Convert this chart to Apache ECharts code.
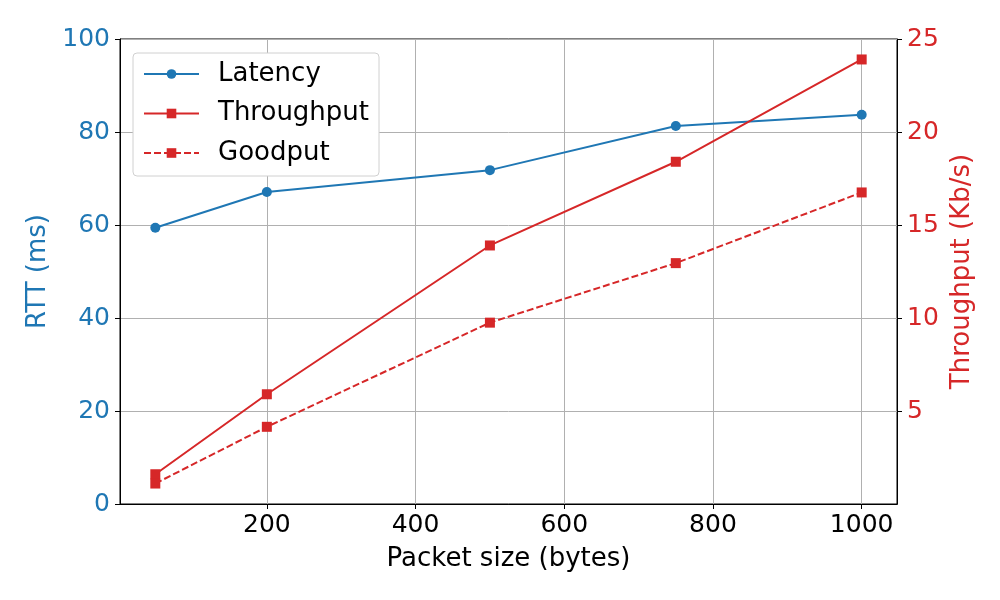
<!DOCTYPE html>
<html>
<head>
<meta charset="utf-8">
<script src="https://cdn.jsdelivr.net/npm/echarts@6/dist/echarts.min.js"></script>
<style>
  html, body { margin: 0; padding: 0; background: #fff; }
  #main { width: 1000px; height: 600px; }
</style>
</head>
<body>
<div id="main"></div>
<script>
// packet sizes (bytes)
var packetSizes = [50, 200, 500, 750, 1000];
// RTT in ms (left axis)
var latency = [59.4, 67.1, 71.8, 81.3, 83.7];
// Kb/s (right axis)
var throughput = [1.6, 5.9, 13.9, 18.4, 23.9];
var goodput = [1.1, 4.15, 9.75, 12.95, 16.75];

var xTicks = [200, 400, 600, 800, 1000];
var rightTicks = [5, 10, 15, 20, 25];

var blue = '#1f77b4';
var red = '#d62728';
var font = 'DejaVu Sans';

function pairs(xs, ys) {
  return xs.map(function (x, i) { return [x, ys[i]]; });
}

var myChart = echarts.init(document.getElementById('main'));
myChart.setOption({
  animation: false,
  textStyle: { fontFamily: font },
  grid: {
    left: 120, right: 103, top: 39, bottom: 96,
    show: true, borderColor: '#000', borderWidth: 1
  },
  legend: {
    orient: 'vertical',
    left: 133, top: 53,
    padding: [8, 10, 10, 10],
    backgroundColor: '#fff',
    borderColor: '#d0d0d0',
    borderWidth: 1,
    borderRadius: 4,
    itemWidth: 55,
    itemHeight: 12,
    itemGap: 13.5,
    textStyle: { fontSize: 26, lineHeight: 26, color: '#000', fontFamily: font, padding: [0, 0, 0, 14] },
    data: ['Latency', 'Throughput', 'Goodput']
  },
  xAxis: [{
    type: 'value',
    min: 2.5, max: 1047.5,
    name: 'Packet size (bytes)',
    nameLocation: 'middle',
    nameGap: 42,
    nameTextStyle: { fontSize: 26, color: '#000' },
    axisLine: { lineStyle: { color: '#000' } },
    axisTick: { show: true, length: 5, lineStyle: { color: '#000' }, customValues: xTicks },
    axisLabel: { fontSize: 25, color: '#000', margin: 9, customValues: xTicks, formatter: function (v) { return String(v); } },
    splitLine: { show: true, lineStyle: { color: '#b0b0b0', width: 1 } }
  }, {
    // top spine only
    type: 'value',
    position: 'top',
    z: 5,
    min: 2.5, max: 1047.5,
    axisLine: { show: true, lineStyle: { color: '#000' } },
    axisTick: { show: false },
    axisLabel: { show: false },
    splitLine: { show: false }
  }],
  yAxis: [{
    type: 'value',
    min: 0, max: 100, interval: 20,
    name: 'RTT (ms)',
    nameLocation: 'middle',
    nameGap: 67,
    nameTextStyle: { fontSize: 26, color: blue },
    axisLine: { show: true, lineStyle: { color: '#000' } },
    axisTick: { show: true, length: 5, lineStyle: { color: '#000' } },
    axisLabel: { fontSize: 25, color: blue, margin: 10 },
    splitLine: { show: true, lineStyle: { color: '#b0b0b0', width: 1 } }
  }, {
    type: 'value',
    position: 'right',
    min: 0, max: 25, interval: 5,
    name: 'Throughput (Kb/s)',
    nameLocation: 'middle',
    nameGap: 46,
    nameTextStyle: { fontSize: 26, color: red },
    axisLine: { show: true, lineStyle: { color: '#000' } },
    axisTick: { show: true, length: 5, lineStyle: { color: '#000' }, customValues: rightTicks },
    axisLabel: { fontSize: 25, color: red, margin: 10, customValues: rightTicks },
    splitLine: { show: false }
  }],
  series: [{
    name: 'Latency',
    type: 'line',
    yAxisIndex: 0,
    data: pairs(packetSizes, latency),
    color: blue,
    symbol: 'circle',
    symbolSize: 10,
    lineStyle: { width: 2, color: blue },
    itemStyle: { color: blue }
  }, {
    name: 'Throughput',
    type: 'line',
    yAxisIndex: 1,
    data: pairs(packetSizes, throughput),
    color: red,
    symbol: 'rect',
    symbolSize: 10,
    lineStyle: { width: 2, color: red },
    itemStyle: { color: red }
  }, {
    name: 'Goodput',
    type: 'line',
    yAxisIndex: 1,
    data: pairs(packetSizes, goodput),
    color: red,
    symbol: 'rect',
    symbolSize: 10,
    lineStyle: { width: 2, color: red, type: [7, 3] },
    itemStyle: { color: red }
  }]
});
window.addEventListener('resize', function () {
  myChart.resize();
});
</script>
</body>
</html>
